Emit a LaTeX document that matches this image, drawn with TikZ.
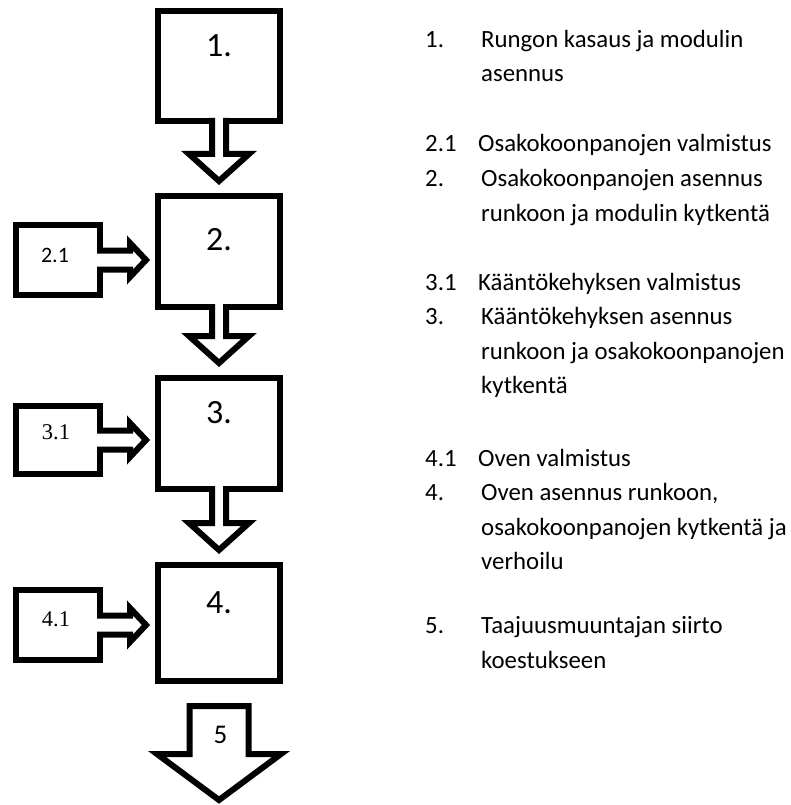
\documentclass[tikz,border=0pt]{standalone}
\usepackage{fontspec}
\setmainfont{Carlito}
\newfontfamily\timesfont{Liberation Serif}
\usetikzlibrary{calc}
\tikzset{
  bigbox/.style={draw=black,line width=6pt,minimum width=122pt,inner sep=0pt,outer sep=0pt},
  subbox/.style={draw=black,line width=6pt,minimum width=84pt,inner sep=0pt,outer sep=0pt},
  boxnum/.style={font=\fontsize{34}{40}\selectfont,inner sep=0pt},
  subnum/.style={font=\fontsize{22}{24}\selectfont,inner sep=0pt},
  subnumserif/.style={font=\timesfont\fontsize{22.5}{24}\selectfont,inner sep=0pt},
  arrnum/.style={font=\fontsize{27}{30}\selectfont,inner sep=0pt},
  listtxt/.style={font=\fontsize{24.8}{29}\selectfont,anchor=base west,inner sep=0pt},
  blockarr/.style={draw=black,fill=white,line width=6pt}
}
\begin{document}
\begin{tikzpicture}[x=1pt,y=-1pt]
\path[use as bounding box] (0,0) rectangle (791,805);
% main steps
\foreach \n/\y/\h/\d in {1/66/110/35,2/251.5/111/44,3/433.5/111/35,4/623/116/38}{
\node[bigbox,minimum height=\h pt] (b\n) at (219,\y) {};
\node[boxnum] (l\n) at ($(b\n.north)+(0,\d)$) {\n.};
}
% sub steps
\foreach \n/\y/\h in {2/260/70,3/440/68,4/625/70}{
\node[subbox,minimum height=\h pt] (s\n) at (58,\y) {};
}
\node[subnum] (m2) at ($(s2.center)+(-3,-5)$) {2.1};
\node[subnumserif] (m3) at ($(s3.center)+(-2,-8)$) {3.1};
\node[subnumserif] (m4) at ($(s4.center)+(-2,-6)$) {4.1};
% arrows down
\foreach \a/\b in {1/2,2/3,3/4}{
\coordinate (tip\a) at ($(b\b.north)+(0,-15)$);
\draw[blockarr] ($(b\a.south)+(-7,-3)$) -- ($(tip\a)+(-7,-27)$) -- ($(tip\a)+(-30,-27)$) -- (tip\a)
  -- ($(tip\a)+(30,-27)$) -- ($(tip\a)+(7,-27)$) -- ($(b\a.south)+(7,-3)$);
}
% arrows from sub steps
\foreach \n in {2,3,4}{
\coordinate (sp\n) at ($(b\n.west |- s\n.east)+(-12,0)$);
\draw[blockarr] ($(s\n.east)+(-3,-9.5)$) -- ($(sp\n)+(-16,-9.5)$) -- ($(sp\n)+(-16,-17)$) -- (sp\n)
  -- ($(sp\n)+(-16,17)$) -- ($(sp\n)+(-16,9.5)$) -- ($(s\n.east)+(-3,9.5)$);
}
% step 5
\coordinate (a5) at ($(b4.south)+(0,25)$);
\draw[blockarr] ($(a5)+(-29.5,0)$) -- ($(a5)+(29.5,0)$) -- ($(a5)+(29.5,48)$) -- ($(a5)+(62,48)$)
  -- ($(a5)+(0,94)$) -- ($(a5)+(-62,48)$) -- ($(a5)+(-29.5,48)$) -- cycle;
\node[arrnum] (l5) at ($(a5)+(1.5,29)$) {5};
% list on the right
\foreach \k/\y/\num in {0/47.5/1.,3/152/2.1,4/186.5/2.,7/290/3.1,8/324.5/3.,12/466/4.1,13/500.5/4.,17/633.5/5.}{
\node[listtxt] (n\k) at (425,\y) {\num};
}
\foreach \k/\x/\y/\txt in {0/481/47.5/Rungon kasaus ja modulin,1/481/82/asennus,
  3/478/152/Osakokoonpanojen valmistus,4/481/186.5/Osakokoonpanojen asennus,5/481/221/runkoon ja modulin kytkentä,
  7/478/290/Kääntökehyksen valmistus,8/481/324.5/Kääntökehyksen asennus,9/481/359/runkoon ja osakokoonpanojen,10/481/393.5/kytkentä,
  12/478/466/Oven valmistus,13/481/500.5/{Oven asennus runkoon,},14/481/535/osakokoonpanojen kytkentä ja,15/481/569.5/verhoilu,
  17/481/633.5/Taajuusmuuntajan siirto,18/481/668/koestukseen}{
\node[listtxt] (t\k) at (\x,\y) {\txt};
}
\end{tikzpicture}
\end{document}
